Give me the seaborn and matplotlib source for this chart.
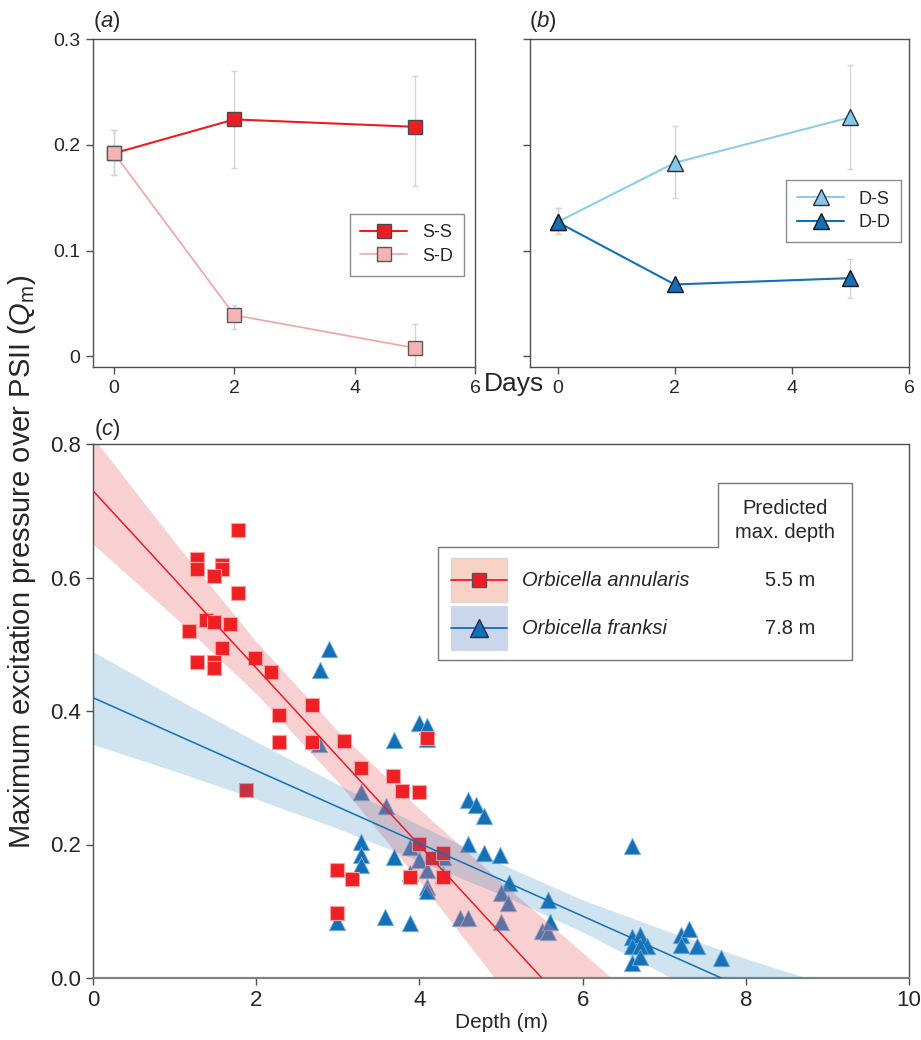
import numpy as np
import matplotlib.pyplot as plt
import matplotlib.patches as mpatches
from matplotlib.lines import Line2D
import seaborn as sns

# ── global style ─────────────────────────────────────────
sns.set_theme(style="ticks")
plt.rcParams["font.family"] = ["Liberation Sans", "DejaVu Sans"]
plt.rcParams["mathtext.fontset"] = "custom"
plt.rcParams["mathtext.rm"] = "Liberation Sans"
plt.rcParams["mathtext.it"] = "Liberation Sans:italic"

W, H = 921, 1040

RED = "#ED1C24"
PINK = "#F4AAAA"
LBLUE = "#86C8EC"
BLUE = "#1170B8"
ERR = "#D4D4D4"
SPINE = "#505050"

# ── data: panels (a) and (b) ─────────────────────────────
days = [0, 2, 5]
ss_mean = [0.192, 0.224, 0.217]
ss_lo = [0.171, 0.178, 0.161]
ss_hi = [0.214, 0.270, 0.265]
sd_mean = [0.192, 0.039, 0.008]
sd_lo = [0.171, 0.026, -0.015]
sd_hi = [0.214, 0.049, 0.031]

ds_mean = [0.127, 0.183, 0.226]
ds_lo = [0.116, 0.150, 0.177]
ds_hi = [0.140, 0.218, 0.275]
dd_mean = [0.127, 0.068, 0.074]
dd_lo = [0.116, 0.064, 0.055]
dd_hi = [0.140, 0.072, 0.092]

# ── data: panel (c) ──────────────────────────────────────
ann_depth = [1.78, 1.27, 1.27, 1.58, 1.58, 1.48, 1.78, 1.18, 1.38, 1.48,
             1.68, 1.58, 1.27, 1.48, 1.48, 1.98, 2.18, 2.68, 2.28, 2.28,
             2.68, 3.08, 3.29, 3.68, 3.79, 3.99, 1.88, 4.09, 2.99, 3.18,
             2.99, 3.99, 4.16, 4.29, 3.88, 4.29]
ann_qm = [0.671, 0.627, 0.613, 0.619, 0.612, 0.602, 0.577, 0.520, 0.536, 0.534,
          0.530, 0.494, 0.474, 0.473, 0.464, 0.479, 0.458, 0.409, 0.394, 0.354,
          0.354, 0.355, 0.315, 0.303, 0.280, 0.278, 0.281, 0.359, 0.162, 0.149,
          0.097, 0.201, 0.180, 0.187, 0.152, 0.152]

fra_depth = [2.89, 2.78, 2.77, 3.99, 4.09, 4.09, 3.69, 3.29, 3.59, 4.59,
             4.69, 4.79, 3.29, 3.29, 3.29, 3.69, 4.59, 4.79, 4.99, 3.88,
             3.99, 4.09, 3.88, 4.09, 4.09, 4.29, 4.29, 5.10, 5.00, 5.09,
             5.58, 4.50, 4.60, 5.00, 5.50, 5.58, 5.60, 2.99, 3.58, 3.88,
             6.60, 6.60, 6.70, 6.79, 6.60, 6.70, 6.60, 6.70, 7.20, 7.31,
             7.20, 7.40, 7.70]
fra_qm = [0.493, 0.461, 0.351, 0.382, 0.378, 0.358, 0.356, 0.279, 0.258, 0.267,
          0.259, 0.242, 0.204, 0.184, 0.169, 0.182, 0.201, 0.188, 0.184, 0.196,
          0.177, 0.162, 0.157, 0.137, 0.130, 0.181, 0.154, 0.142, 0.127, 0.113,
          0.117, 0.090, 0.090, 0.084, 0.070, 0.069, 0.084, 0.084, 0.092, 0.083,
          0.198, 0.062, 0.064, 0.048, 0.048, 0.048, 0.022, 0.032, 0.064, 0.074,
          0.050, 0.048, 0.030]

# fitted lines
ann_fit_x = [0, 5.5]
ann_fit_y = [0.73, 0.0]
fra_fit_x = [0, 7.7]
fra_fit_y = [0.42, 0.0]

# confidence bands (lower / upper edge read at integer depths)
ann_band_x = [0, 1, 2, 3, 4, 5, 6, 7]
ann_band_lo = [0.650, 0.541, 0.426, 0.294, 0.145, -0.012, -0.170, -0.330]
ann_band_hi = [0.810, 0.653, 0.504, 0.370, 0.253, 0.144, 0.038, -0.069]
fra_band_x = [0, 1, 2, 3, 4, 5, 6, 7, 8, 9]
fra_band_lo = [0.350, 0.310, 0.268, 0.224, 0.175, 0.125, 0.069, 0.006, -0.061, -0.13]
fra_band_hi = [0.489, 0.420, 0.354, 0.290, 0.229, 0.171, 0.117, 0.072, 0.029, -0.01]

species = ["Orbicella annularis", "Orbicella franksi"]
max_depth = ["5.5 m", "7.8 m"]


def fx(px):
    return px / W


def fy(py):
    return 1 - py / H


def style_axes(ax, size=13):
    for s in ax.spines.values():
        s.set_visible(True)
        s.set_color(SPINE)
        s.set_linewidth(1.0)
    ax.tick_params(direction="out", length=5, width=1, color=SPINE,
                   labelsize=size, pad=4)


def panel_series(ax, mean, lo, hi, color, line_color, edge, marker, ms, label, lw):
    yerr = [np.array(mean) - np.array(lo), np.array(hi) - np.array(mean)]
    ax.errorbar(days, mean, yerr=yerr, fmt="none", ecolor=ERR,
                elinewidth=1, capsize=2.5, capthick=1, zorder=1)
    sns.lineplot(x=days, y=mean, ax=ax, color=line_color, lw=lw,
                 marker=marker, markersize=ms, markerfacecolor=color,
                 markeredgecolor=edge, markeredgewidth=1.0,
                 label=label, zorder=3)


fig = plt.figure(figsize=(W / 100, H / 100), dpi=100)

# ══════════════════════════════════════════════════════════
# (a)
# ══════════════════════════════════════════════════════════
ax_a = fig.add_axes([fx(93), fy(367), fx(475) - fx(93), (367 - 39) / H])
panel_series(ax_a, ss_mean, ss_lo, ss_hi, RED, RED, "#4A4A4A", "s", 9.5, "S-S", 1.5)
panel_series(ax_a, sd_mean, sd_lo, sd_hi, "#F5B3B3", "#F4A3A3", "#5A5A5A", "s", 9.5, "S-D", 1.2)
ax_a.set_xlim(-0.35, 6)
ax_a.set_ylim(-0.01, 0.3)
ax_a.set_xticks([0, 2, 4, 6])
ax_a.set_yticks([0, 0.1, 0.2, 0.3])
ax_a.set_yticklabels(["0", "0.1", "0.2", "0.3"])
style_axes(ax_a, 14)
ax_a.legend(loc="center", bbox_to_anchor=(0.821, 0.373), fontsize=13,
            frameon=True, fancybox=False, edgecolor="#707070",
            handlelength=2.6, borderpad=0.6, labelspacing=0.35)
ax_a.get_legend().get_frame().set_linewidth(1.0)

# ══════════════════════════════════════════════════════════
# (b)
# ══════════════════════════════════════════════════════════
ax_b = fig.add_axes([fx(530), fy(367), fx(909) - fx(530), (367 - 39) / H])
panel_series(ax_b, ds_mean, ds_lo, ds_hi, LBLUE, "#8CCDEE", "#303030", "^", 12, "D-S", 1.5)
panel_series(ax_b, dd_mean, dd_lo, dd_hi, BLUE, BLUE, "#1A1A1A", "^", 12, "D-D", 1.5)
ax_b.set_xlim(-0.47, 6)
ax_b.set_ylim(-0.01, 0.3)
ax_b.set_xticks([0, 2, 4, 6])
ax_b.set_yticks([0, 0.1, 0.2, 0.3])
ax_b.set_yticklabels([])
style_axes(ax_b, 14)
ax_b.legend(loc="center", bbox_to_anchor=(0.828, 0.476), fontsize=13,
            frameon=True, fancybox=False, edgecolor="#707070",
            handlelength=2.6, borderpad=0.6, labelspacing=0.35)
ax_b.get_legend().get_frame().set_linewidth(1.0)

for ax in (ax_a, ax_b):
    ax.set_xlabel("")
    ax.set_ylabel("")

fig.text(fx(107), fy(21), r"($\it{a}$)", fontsize=16, ha="center", va="center")
fig.text(fx(543), fy(21), r"($\it{b}$)", fontsize=16, ha="center", va="center")
fig.text(fx(514), fy(384), "Days", fontsize=19, ha="center", va="center")

# ══════════════════════════════════════════════════════════
# (c)
# ══════════════════════════════════════════════════════════
ax_c = fig.add_axes([fx(93), fy(978), fx(909) - fx(93), (978 - 444) / H])
sns.scatterplot(x=fra_depth, y=fra_qm, ax=ax_c, marker="^", s=140,
                color=BLUE, edgecolor="#7FB3DE", linewidth=0.6,
                zorder=1, legend=False)
ax_c.fill_between(ann_band_x, ann_band_lo, ann_band_hi,
                  color="#EE7A80", alpha=0.35, lw=0, zorder=2)
sns.scatterplot(x=ann_depth, y=ann_qm, ax=ax_c, marker="s", s=100,
                color="#EE2024", edgecolor="#F6A0A0", linewidth=0.8,
                zorder=3, legend=False)
ax_c.fill_between(fra_band_x, fra_band_lo, fra_band_hi,
                  color="#2580BE", alpha=0.22, lw=0, zorder=4)
ax_c.plot(ann_fit_x, ann_fit_y, color=RED, lw=1.1, zorder=5)
ax_c.plot(fra_fit_x, fra_fit_y, color=BLUE, lw=1.1, zorder=5)
ax_c.set_xlim(0, 10)
ax_c.set_ylim(0, 0.8)
ax_c.set_xticks([0, 2, 4, 6, 8, 10])
ax_c.set_yticks([0, 0.2, 0.4, 0.6, 0.8])
ax_c.set_yticklabels(["0.0", "0.2", "0.4", "0.6", "0.8"])
style_axes(ax_c, 16)
ax_c.spines["bottom"].set_color("#808080")
ax_c.spines["bottom"].set_linewidth(1.6)
ax_c.set_xlabel("Depth (m)", fontsize=15, labelpad=1)
ax_c.set_ylabel("")

fig.text(fx(107), fy(430), r"($\it{c}$)", fontsize=16, ha="center", va="center")
fig.text(fx(22), fy(562), r"Maximum excitation pressure over PSII ($Q_\mathrm{m}$)",
         fontsize=21, rotation=90, ha="center", va="center")

# custom legend box for (c)
box = [(438, 547), (718, 547), (718, 483), (852, 483), (852, 660), (438, 660)]
fig.add_artist(mpatches.Polygon([(fx(x), fy(y)) for x, y in box], closed=True,
                                transform=fig.transFigure, facecolor="white",
                                edgecolor="#777777", lw=1.0, zorder=10))
rows = [
    (580, "#F9D2C6", RED, "s", 9.5, RED, "#555555"),
    (628, "#C9D6EC", BLUE, "^", 12.5, BLUE, "#1E2E4A"),
]
for (yc, bg, lc, mk, ms, fc, ec), name, dep in zip(rows, species, max_depth):
    fig.add_artist(mpatches.Rectangle((fx(451), fy(yc + 22)), fx(507) - fx(451), 44 / H,
                                      transform=fig.transFigure, facecolor=bg,
                                      edgecolor="#D8D8D8", lw=1.0, zorder=11))
    fig.add_artist(Line2D([fx(451), fx(507)], [fy(yc), fy(yc)], transform=fig.transFigure,
                          color=lc, lw=1.3, zorder=12))
    fig.add_artist(Line2D([fx(479)], [fy(yc)], transform=fig.transFigure, marker=mk,
                          markersize=ms, markerfacecolor=fc, markeredgecolor=ec,
                          markeredgewidth=1.0, lw=0, zorder=13))
    fig.text(fx(522), fy(yc), name, fontsize=14.5, style="italic",
             ha="left", va="center", zorder=14)
    fig.text(fx(790), fy(yc), dep, fontsize=14.5, ha="center", va="center", zorder=14)
fig.text(fx(785), fy(508), "Predicted", fontsize=14.5, ha="center", va="center", zorder=14)
fig.text(fx(785), fy(533), "max. depth", fontsize=14.5, ha="center", va="center", zorder=14)

fig.savefig("out.png", dpi=100)
